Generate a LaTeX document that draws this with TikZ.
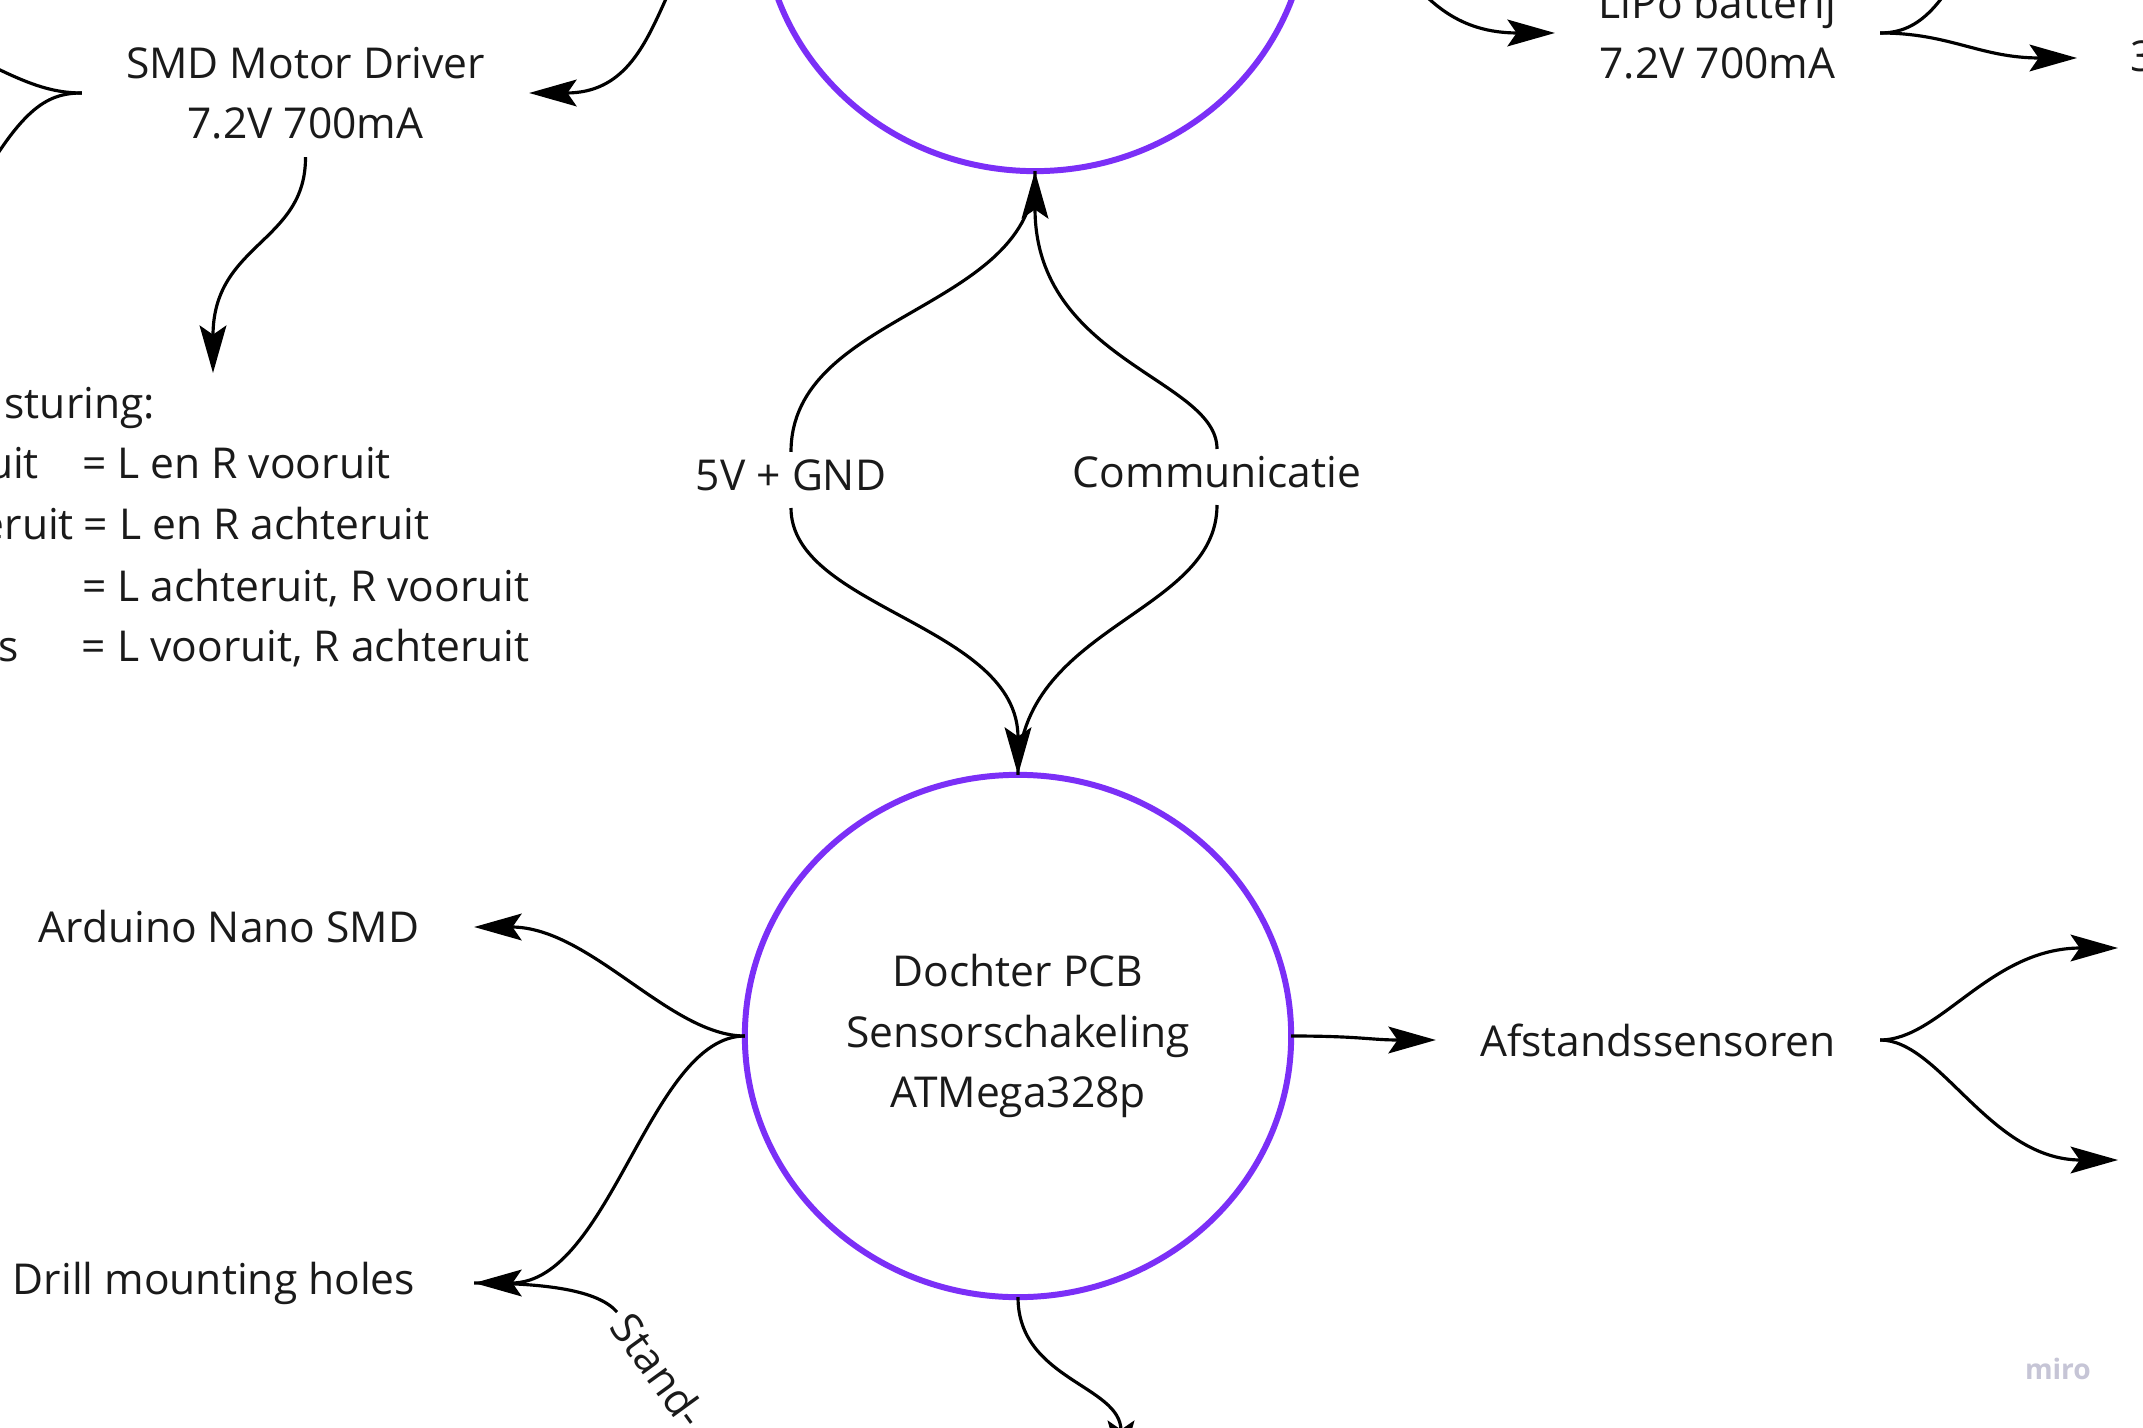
\documentclass[tikz,border=0pt]{standalone}
\usepackage{fontspec}
\setmainfont{Open Sans}
\usetikzlibrary{arrows.meta,shapes.geometric}
\definecolor{pcbviolet}{HTML}{7B2FF7}
\definecolor{txtcol}{HTML}{1A1A1A}
\definecolor{mirogray}{HTML}{C6C5D6}
\begin{document}
\begin{tikzpicture}[x=0.01cm, y=-0.01cm,
  every node/.style={font=\fontsize{12.1}{17.1}\selectfont, text=txtcol},
  conn/.style={draw=black, line width=0.9pt},
  arr/.style={conn, -{Stealth[length=13.5pt, width=7.6pt, inset=2.6pt]}},
  circ/.style={ellipse, draw=pcbviolet, line width=1.7pt, minimum width=5.46cm, minimum height=5.22cm, inner sep=0pt, outer sep=0pt, align=center},
  box/.style={align=center, inner sep=0pt, outer sep=0pt},
  lbl/.style={inner xsep=0.06cm, inner ysep=0pt, text height=0.38cm, text depth=0.18cm, outer sep=0pt},
  linetxt/.style={inner sep=0pt, outer sep=0pt}]
\useasboundingbox (0,0) rectangle (2143,1428);
\clip (0,0) rectangle (2143,1428);
\fill[white] (0,0) rectangle (2143,1428);

% nodes
\node[circ] (moeder) at (1035,-90) {};
\node[circ] (dochter) at (1018,1036) {Dochter PCB\\Sensorschakeling\\ATMega328p};
\node[box, minimum width=4.47cm, minimum height=1.28cm] (smd) at (305.5,93) {SMD Motor Driver\\7.2V 700mA};
\node[box, minimum width=3.25cm, minimum height=1.28cm] (lipo) at (1717.5,33) {LiPo batterij\\7.2V 700mA};
\node[box, minimum width=4.9cm] (ard) at (229,927) {Arduino Nano SMD};
\node[box, minimum width=5.2cm] (drill) at (214,1283) {Drill mounting holes};
\node[box, minimum width=4.44cm] (afst) at (1658,1040) {Afstandssensoren};
\node[lbl] (v5) at (791,480) {5V + GND};
\node[lbl] (comm) at (1217,477) {Communicatie};
\node[linetxt, rotate=-54, anchor=west, inner xsep=0.08cm] (stand) at (617,1312) {Stand-};
\node[linetxt, anchor=base east] (st1) at (155,419) {sturing:};
\node[linetxt, anchor=base west] (st2) at (82,479) {\llap{uit\hspace{0.43cm}}= L en R vooruit};
\node[linetxt, anchor=base west] (st3) at (84,540) {\llap{eruit\hspace{0.1cm}}= L en R achteruit};
\node[linetxt, anchor=base west] (st4) at (82,601) {= L achteruit, R vooruit};
\node[linetxt, anchor=base west] (st5) at (82,662) {\llap{s\hspace{0.63cm}}= L vooruit, R achteruit};
\node[linetxt, anchor=base west] (three) at (2130,72) {3};
\node[linetxt, anchor=base west, font=\fontsize{8}{10}\selectfont\bfseries, text=mirogray] (miro) at (2025,1379) {miro};

% free ends
\coordinate (sturtop) at (213,373);
\coordinate (c3) at (2077,58);
\coordinate (offA) at (-60,40);
\coordinate (offB) at (-30,200);
\coordinate (offC) at (1980,-70);
\coordinate (below) at (1121,1468);
\coordinate (sens1) at (2118,948);
\coordinate (sens2) at (2118,1160);

% connectors between the two PCBs
\draw[conn] (v5.north) .. controls (791,312) and (1035,311) .. (moeder.south);
\draw[arr] (v5.south) .. controls (791,608) and (1018,625) .. (dochter.north);
\draw[arr] (comm.north) .. controls (1217,379) and (1035,361) .. (moeder.south);
\draw[conn] (comm.south) .. controls (1217,615) and (1018,625) .. (dochter.north);

% motor driver
\draw[arr] (moeder.west) .. controls (650,-90) and (680,93) .. (smd.east);
\draw[conn] (smd.west) .. controls (40,93) and (10,75) .. (offA);
\draw[conn] (smd.west) .. controls (45,93) and (20,110) .. (offB);
\draw[arr] (smd.south) .. controls (306,243) and (213,243) .. (sturtop);

% battery
\draw[arr] (moeder.east) .. controls (1400,-90) and (1400,33) .. (lipo.west);
\draw[conn] (lipo.east) .. controls (1920,33) and (1945,5) .. (offC);
\draw[arr] (lipo.east) .. controls (1950,33) and (1980,58) .. (c3);

% daughter board
\draw[arr] (dochter.west) .. controls (670,1036) and (590,927) .. (ard.east);
\draw[arr] (dochter.west) .. controls (650,1036) and (610,1283) .. (drill.east);
\draw[arr] (dochter.east) .. controls (1360,1036) and (1370,1040) .. (afst.west);
\draw[arr] (dochter.south) .. controls (1018,1380) and (1121,1385) .. (below);
\draw[arr] (afst.east) .. controls (1940,1040) and (1990,948) .. (sens1);
\draw[arr] (afst.east) .. controls (1940,1040) and (1990,1160) .. (sens2);
\draw[conn] (drill.east) .. controls (545,1283) and (598,1290) .. (stand.west);
\end{tikzpicture}
\end{document}
